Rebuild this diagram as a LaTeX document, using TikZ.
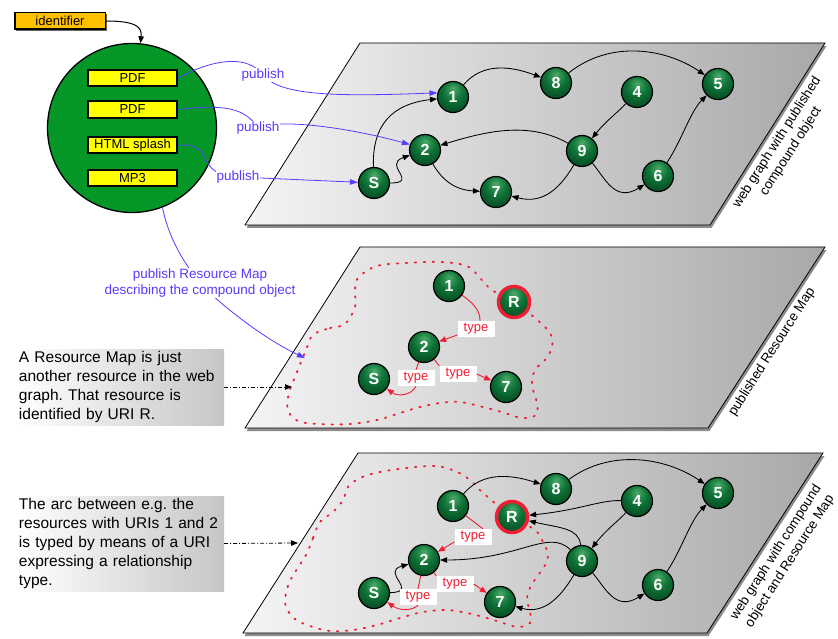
\documentclass[tikz,border=0pt]{standalone}
\usepackage{fontspec}
\setmainfont{Liberation Sans}
\usetikzlibrary{arrows.meta,shadows,calc}

\definecolor{pubblue}{RGB}{85,60,255}
\definecolor{typered}{RGB}{240,30,50}
\definecolor{idorange}{RGB}{255,192,0}
\definecolor{boxyellow}{RGB}{255,255,0}
\definecolor{objgreen}{RGB}{5,150,40}
\definecolor{gtop}{RGB}{75,170,105}
\definecolor{gmid}{RGB}{15,115,55}
\definecolor{gbot}{RGB}{0,52,22}

\pgfdeclareradialshading{greenball}{\pgfqpoint{0bp}{14bp}}{%
  color(0bp)=(gtop); color(16bp)=(gmid); color(42bp)=(gbot); color(64bp)=(gbot)}

\frenchspacing
\begin{document}
\begin{tikzpicture}[x=1pt,y=-1pt,
  plane/.style={draw=black, line width=0.8pt, left color=gray!8, right color=gray!68,
    drop shadow={shadow xshift=1.5pt, shadow yshift=-3pt, opacity=0.45, fill=black}},
  ball/.style={circle, minimum size=31pt, inner sep=0pt, draw=black, line width=1.2pt,
    shading=greenball, text=white, font=\fontsize{16}{16}\selectfont\bfseries},
  rball/.style={ball, draw=typered, line width=3.5pt, minimum size=31pt},
  link/.style={draw=black, line width=0.85pt, -{Triangle[length=7pt,width=5.5pt]}},
  typelink/.style={draw=typered, line width=0.9pt},
  typearrow/.style={typelink, -{Triangle[length=7pt,width=5.5pt]}},
  typelab/.style={fill=white, text=typered, font=\fontsize{13}{13}\selectfont,
    inner sep=0pt, minimum width=37pt, minimum height=16pt},
  publink/.style={draw=pubblue, line width=0.8pt},
  pubarrow/.style={publink, -{Triangle[length=8pt,width=5.5pt]}},
  publab/.style={fill=white, text=pubblue, font=\fontsize{13.5}{16}\selectfont,
    inner sep=1pt, align=center},
  fmt/.style={draw=black, line width=1.8pt, fill=boxyellow, minimum width=89.5pt,
    minimum height=16.5pt, inner sep=0pt, font=\fontsize{13}{13}\selectfont},
  idbox/.style={draw=black, line width=1.5pt, fill=idorange, minimum width=90.5pt,
    minimum height=16.5pt, inner sep=0pt, font=\fontsize{13}{13}\selectfont,
    drop shadow={shadow xshift=1.5pt, shadow yshift=-1.5pt, opacity=0.6, fill=black}},
  objcircle/.style={circle, draw=black, line width=1.3pt, fill=objgreen,
    minimum size=169pt, inner sep=0pt},
  note/.style={left color=white, right color=gray!45, align=left, text width=203pt,
    inner sep=2pt, minimum height=76pt, font=\fontsize{15.5}{19}\selectfont},
  dashdot/.style={draw=black, line width=0.8pt, dash pattern=on 4pt off 2pt on 1pt off 2pt,
    -{Triangle[length=7pt,width=5.5pt]}},
  rmloop/.style={draw=typered, line width=1.8pt, dash pattern=on 1.5pt off 7.5pt, line cap=round},
  side/.style={rotate=57.5, align=center, font=\fontsize{13.5}{16.5}\selectfont}
]
\useasboundingbox (0,0) rectangle (838,639);

% the three planes
\path[plane] (245,225) -- (710,225) -- (825,43) -- (360,43) -- cycle;
\path[plane] (245,428) -- (708,428) -- (825,247) -- (360,247) -- cycle;
\path[plane] (243,633) -- (707,633) -- (823,453) -- (358,453) -- cycle;

% resource map boundaries
\draw[rmloop] plot[smooth cycle, tension=0.6] coordinates {
  (313,335) (330,328) (345,324) (355,307) (355,290) (358,278) (377,266) (407,263)
  (440,262) (467,266) (480,278) (492,290) (514,302) (535,318) (550,333) (552,347)
  (545,360) (535,370) (532,385) (537,403) (536,415) (522,418) (505,413) (483,407)
  (460,402) (440,403) (420,407) (400,413) (377,420) (350,424) (320,424) (298,421)
  (288,410) (289,393) (297,372) (306,350)};
\draw[rmloop] plot[smooth cycle, tension=0.6] coordinates {
  (307,553) (313,538) (320,522) (333,512) (343,500) (348,487) (360,478) (380,472)
  (407,468) (435,466) (455,471) (470,480) (482,492) (512,517) (535,530) (543,542)
  (548,555) (544,567) (536,578) (529,590) (527,600) (530,612) (530,623) (518,627)
  (503,623) (487,618) (467,613) (447,610) (423,612) (400,618) (377,625) (353,630)
  (330,631) (310,626) (295,619) (286,607) (286,593) (291,579) (299,566)};

% compound object
\node[idbox] (ident) at (60,21) {identifier};
\node[objcircle] (obj) at (132,128) {};
\node[fmt] (pdf1) at (132.5,78) {PDF};
\node[fmt] (pdf2) at (132.5,109.5) {PDF};
\node[fmt] (html) at (132.5,145) {HTML splash};
\node[fmt] (mp3) at (132.5,178) {MP3};
\draw[link, line width=1pt] (ident.east) .. controls (138,21) and (142,28) .. (obj);

% web graph with published compound object
\node[ball] (a1) at (453,97) {1};
\node[ball] (a8) at (556,83) {8};
\node[ball] (a4) at (637,92) {4};
\node[ball] (a5) at (718,84) {5};
\node[ball] (a2) at (425,150) {2};
\node[ball] (a9) at (582,151) {9};
\node[ball] (a6) at (658,176) {6};
\node[ball] (aS) at (374,183) {S};
\node[ball] (a7) at (496,192) {7};

\draw[link] (a1) .. controls (478,68) and (500,62) .. (a8);
\draw[link] (a8) .. controls (610,40) and (665,48) .. (a5);
\draw[link] (a4) .. controls (618,112) and (605,122) .. (a9);
\draw[link] (a9) .. controls (530,122) and (490,130) .. (a2);
\draw[link] (a9) .. controls (562,185) and (545,205) .. (a7);
\draw[link] (a9) .. controls (605,178) and (615,203) .. (a6);
\draw[link] (a6) .. controls (682,140) and (690,112) .. (a5);
\draw[link] (a2) .. controls (442,180) and (455,190) .. (a7);
\draw[link] (aS) .. controls (372,125) and (392,104) .. (a1);
\draw[link] (aS) .. controls (420,183) and (382,165) .. (a2);

% published resource map
\node[ball] (b1) at (449,286) {1};
\node[rball] (bR) at (514,302) {R};
\node[ball] (b2) at (424,347) {2};
\node[ball] (bS) at (374,379) {S};
\node[ball] (b7) at (506,387) {7};

\node[typelab] (bt1) at (476,329) {type};
\node[typelab] (bt2) at (416,378) {type};
\node[typelab] (bt3) at (458,374) {type};
\draw[typelink] (b1) .. controls (476,305) and (480,312) .. ($(bt1.north)+(4,0)$);
\draw[typearrow] ($(bt1.west)+(0,6)$) -- (b2);
\draw[typelink] (b2) -- (bt2.north);
\draw[typearrow] (bt2.south) .. controls (412,395) and (398,397) .. (bS);
\draw[typelink] (b2) -- (bt3.north west);
\draw[typearrow] (bt3.east) -- (b7);

% web graph with compound object and resource map
\node[ball] (c1) at (453,506) {1};
\node[ball] (c8) at (556,489) {8};
\node[ball] (c4) at (637,501) {4};
\node[ball] (c5) at (718,493) {5};
\node[rball] (cR) at (512,517) {R};
\node[ball] (c2) at (424,560) {2};
\node[ball] (c9) at (582,561) {9};
\node[ball] (c6) at (658,585) {6};
\node[ball] (cS) at (374,593) {S};
\node[ball] (c7) at (500,602) {7};

\draw[link] (c1) .. controls (478,477) and (500,471) .. (c8);
\draw[link] (c8) .. controls (610,449) and (665,457) .. (c5);
\draw[link] (c4) .. controls (618,521) and (605,531) .. (c9);
\draw[link] (c9) .. controls (605,587) and (615,612) .. (c6);
\draw[link] (c6) .. controls (682,549) and (690,521) .. (c5);
\draw[link] (c4) .. controls (600,500) and (580,510) .. (cR);
\draw[link] (c9) .. controls (579,528) and (560,528) .. (cR);
\draw[link] (c9) .. controls (548,528) and (520,560) .. (c2);
\draw[link] (c9) .. controls (562,595) and (545,615) .. (c7);
\draw[link] (cS) .. controls (420,592) and (380,572) .. (c2);

\node[typelab] (ct1) at (473,537) {type};
\node[typelab] (ct2) at (418,597) {type};
\node[typelab] (ct3) at (455,584) {type};
\draw[typelink] (c1) -- ($(ct1.north)+(10,0)$);
\draw[typearrow] ($(ct1.west)+(0,5)$) -- (c2);
\draw[typelink] (c2) -- (ct2.north);
\draw[typearrow] (ct2.south) .. controls (412,611) and (400,611) .. (cS);
\draw[typelink] (c2) -- (ct3.north west);
\draw[typearrow] (ct3.east) -- (c7);

% publishing
\coordinate (pl1) at (263,75);
\coordinate (pl2) at (258,128);
\coordinate (pl3) at (238,177);
\coordinate (plrm) at (200,283);
\coordinate (rmtip) at (305,358);
\draw[pubarrow] (pdf1.east) .. controls (215,58) and (248,55) .. (pl1)
  .. controls (280,95) and (330,97) .. (a1.165);
\draw[pubarrow] (pdf2.east) .. controls (225,104) and (245,108) .. (pl2)
  .. controls (280,118) and (350,128) .. (a2.160);
\draw[publink] (html.east) .. controls (218,143) and (192,175) .. (pl3);
\draw[pubarrow] (pl3) -- (aS);
\draw[pubarrow] (obj.-69) .. controls (170,245) and (190,270) .. (plrm)
  .. controls (215,300) and (262,338) .. (rmtip);
\node[publab] (p1) at (pl1) {publish};
\node[publab] (p2) at (pl2) {publish};
\node[publab] (p3) at (pl3) {publish};
\node[publab] (prm) at (plrm) {publish Resource Map\\describing the compound object};

% explanations
\node[note] (note1) at (120.5,387) {A Resource Map is just\\another resource in the web\\graph. That resource is\\identified by URI R.};
\node[note, minimum height=95pt] (note2) at (120.5,543.5) {The arc between e.g. the\\resources with URIs 1 and 2\\is typed by means of a URI\\expressing a relationship\\type.};
\coordinate (tip1) at (292,387);
\coordinate (tip2) at (298,543);
\draw[dashdot] (note1.east) -- (tip1);
\draw[dashdot] (note2.east) -- (tip2);

% plane captions
\node[side] (lab1) at (784,147) {web graph with published\\compound object};
\node[side] (lab2) at (772,352) {published Resource Map};
\node[side] (lab3) at (783,557) {web graph with compound\\object and Resource Map};
\end{tikzpicture}
\end{document}
